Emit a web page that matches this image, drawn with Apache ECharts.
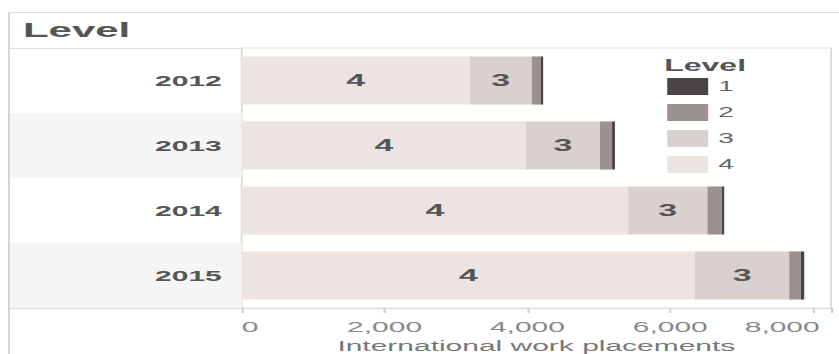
<!DOCTYPE html>
<html>
<head>
<meta charset="utf-8">
<script src="https://cdn.jsdelivr.net/npm/echarts@6/dist/echarts.min.js"></script>
<style>
    html, body { margin: 0; padding: 0; background: #fff; overflow: hidden; }
    /* the source picture is stretched ~2x horizontally, so draw at half width and stretch */
    #chart { width: 420px; height: 354px; transform: scaleX(1.99762); transform-origin: 0 0; }
</style>
</head>
<body>
<div id="chart"></div>
<script>
const years = ['2012', '2013', '2014', '2015'];
const levels = ['1', '2', '3', '4'];
const level4 = [3190, 3980, 5410, 6345];
const level3 = [870, 1035, 1110, 1320];
const level2 = [125, 170, 200, 165];
const level1 = [35, 40, 35, 45];
const xTicks = [0, 2000, 4000, 6000, 8000];

const colors = { '1': '#4a4444', '2': '#9b9290', '3': '#d9d1ce', '4': '#ebe4e1' };
const font = "'Liberation Sans', Arial, sans-serif";

const barLabel = {
    show: true,
    position: 'inside',
    formatter: p => p.seriesName,
    color: '#555',
    fontSize: 17,
    fontWeight: 'bold',
    fontFamily: font
};

const makeSeries = (name, data, withLabel) => ({
    name: name,
    type: 'bar',
    stack: 'total',
    barCategoryGap: '26%',
    data: data,
    itemStyle: { color: colors[name] },
    label: withLabel ? barLabel : { show: false },
    emphasis: { disabled: true }
});

let myChart = echarts.init(document.getElementById('chart'), null, { renderer: 'svg' });

myChart.setOption({
    animation: false,
    textStyle: { fontFamily: font },
    title: [
        {
            text: 'Level',
            left: 6.5,
            top: 14,
            textStyle: { color: '#555', fontSize: 21, fontWeight: 'bold', fontFamily: font }
        },
        {
            text: 'Level',
            left: 348,
            top: 52,
            textAlign: 'center',
            textStyle: { color: '#555', fontSize: 16, fontWeight: 'bold', fontFamily: font }
        }
    ],
    legend: {
        orient: 'vertical',
        left: 329,
        top: 73,
        icon: 'rect',
        itemWidth: 20.5,
        itemHeight: 17,
        itemGap: 9,
        itemTextGap: 9,
        data: levels,
        textStyle: { color: '#666', fontSize: 14, fontFamily: font }
    },
    grid: [
        {
            left: 121,
            right: 4,
            top: 48,
            bottom: 46,
            outerBoundsMode: 'none',
            show: true,
            borderColor: '#ddd',
            borderWidth: 1
        },
        {
            // header pane with the row banding
            left: 5,
            right: 299,
            top: 48,
            bottom: 46,
            outerBoundsMode: 'none'
        }
    ],
    xAxis: [
        {
            type: 'value',
            gridIndex: 0,
            min: 0,
            max: 8250,
            interval: 2000,
            name: 'International work placements',
            nameLocation: 'middle',
            nameGap: 27,
            nameTextStyle: { color: '#777', fontSize: 15, fontFamily: font },
            axisLine: { show: true, lineStyle: { color: '#ddd' } },
            axisTick: { show: true, length: 5, lineStyle: { color: '#ccc' } },
            splitLine: { show: false },
            axisLabel: {
                color: '#888',
                fontSize: 15,
                margin: 11,
                fontFamily: font,
                alignMinLabel: 'left',
                formatter: v => {
                    if (xTicks.indexOf(v) < 0) return '';
                    const txt = v.toLocaleString('en-US');
                    // last label is pulled back inside the pane
                    return v === xTicks[xTicks.length - 1] ? '{last|' + txt + '}' : txt;
                },
                rich: {
                    last: { color: '#888', fontSize: 15, fontFamily: font, padding: [0, 31, 0, 0] }
                }
            }
        },
        {
            type: 'value',
            gridIndex: 1,
            min: 0,
            max: 1,
            axisLine: { show: true, lineStyle: { color: '#ddd' } },
            axisTick: { show: false },
            axisLabel: { show: false },
            splitLine: { show: false }
        }
    ],
    yAxis: [
        {
            type: 'category',
            gridIndex: 0,
            inverse: true,
            data: years,
            axisLine: { show: false },
            axisTick: { show: false },
            axisLabel: {
                color: '#555',
                fontSize: 15,
                fontWeight: 'bold',
                margin: 10,
                fontFamily: font
            }
        },
        {
            type: 'category',
            gridIndex: 1,
            inverse: true,
            data: years,
            axisLine: { show: false },
            axisTick: { show: false },
            axisLabel: { show: false },
            splitArea: { show: true, areaStyle: { color: ['rgba(255,255,255,0)', '#f5f5f5'] } }
        }
    ],
    graphic: [
        { type: 'line', shape: { x1: 4.5, y1: 12.5, x2: 420, y2: 12.5 }, style: { stroke: '#ddd', lineWidth: 1 } },
        { type: 'line', shape: { x1: 4.5, y1: 12.5, x2: 4.5, y2: 354 }, style: { stroke: '#d5d5d5', lineWidth: 1 } },
        { type: 'line', shape: { x1: 4.5, y1: 48.5, x2: 121, y2: 48.5 }, style: { stroke: '#ddd', lineWidth: 1 } }
    ],
    series: [
        makeSeries('4', level4, true),
        makeSeries('3', level3, true),
        makeSeries('2', level2, false),
        makeSeries('1', level1, false),
        { type: 'bar', xAxisIndex: 1, yAxisIndex: 1, data: [], silent: true }
    ]
});
</script>
</body>
</html>
